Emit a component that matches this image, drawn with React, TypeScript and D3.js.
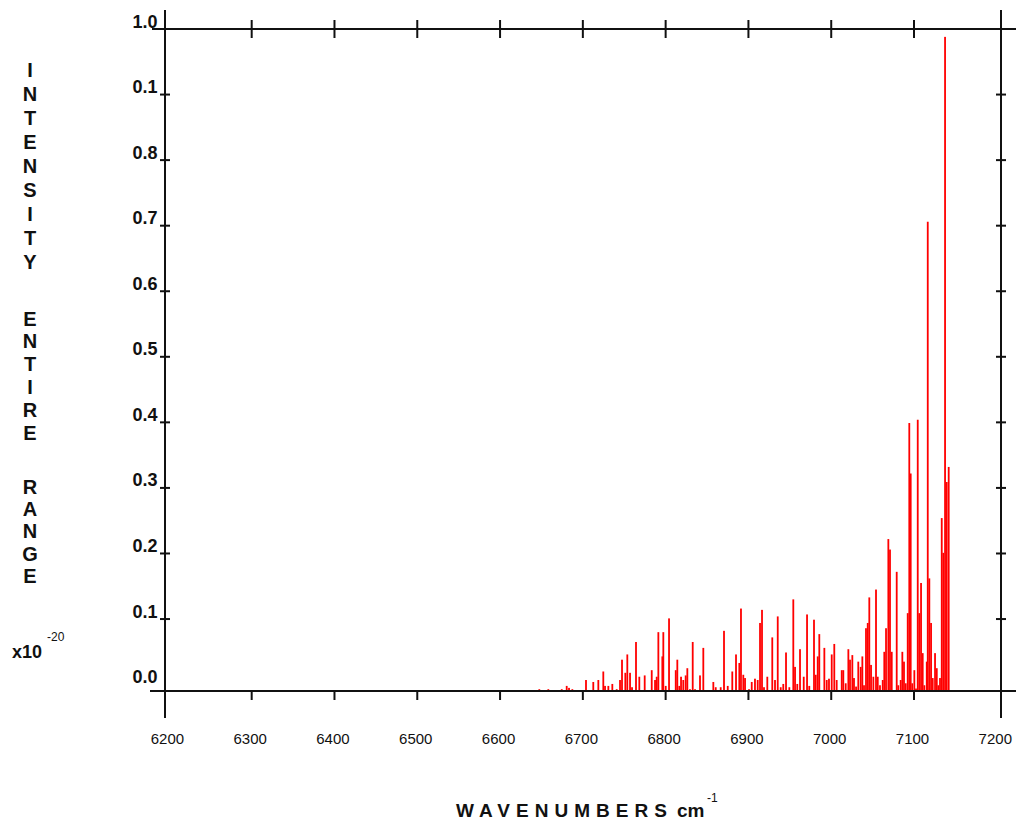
import React from "react";
import * as d3 from "d3";

const WAVENUMBERS = [
  6647.4, 6658.3, 6674.5, 6680.5, 6683.3, 6687.3, 6703.8, 6712.6, 6718.7, 6724.7,
  6726.8, 6730.8, 6735.6, 6740.9, 6744.9, 6747.3, 6751.3, 6753.7, 6757.0, 6759.4,
  6764.2, 6768.2, 6774.7, 6783.2, 6787.2, 6789.2, 6791.2, 6796.0, 6797.2, 6800.1,
  6804.1, 6812.2, 6814.1, 6816.5, 6818.6, 6821.3, 6824.2, 6826.2, 6829.4, 6832.7,
  6835.5, 6841.5, 6845.5, 6857.6, 6860.5, 6866.5, 6870.5, 6875.0, 6880.5, 6885.0,
  6889.0, 6891.0, 6893.8, 6895.9, 6900.7, 6904.0, 6907.9, 6911.2, 6914.0, 6916.4,
  6918.8, 6922.8, 6928.8, 6932.1, 6935.4, 6939.0, 6942.1, 6945.4, 6949.4, 6954.2,
  6956.3, 6959.0, 6962.3, 6966.8, 6970.8, 6973.5, 6979.2, 6981.3, 6983.7, 6985.6,
  6991.7, 6994.6, 6997.3, 7000.6, 7003.7, 7006.6, 7012.7, 7014.6, 7017.5, 7020.7,
  7022.7, 7025.5, 7027.5, 7030.0, 7032.7, 7035.6, 7037.6, 7039.6, 7042.0, 7044.1,
  7046.0, 7048.1, 7050.9, 7054.1, 7056.2, 7058.9, 7062.2, 7064.1, 7066.2, 7069.0,
  7071.0, 7073.1, 7079.1, 7081.0, 7083.9, 7085.9, 7087.9, 7090.0, 7092.4, 7094.3,
  7096.0, 7097.9, 7100.4, 7102.4, 7104.5, 7106.4, 7108.5, 7110.5, 7112.5, 7115.4,
  7116.6, 7118.5, 7120.6, 7122.6, 7125.4, 7127.5, 7129.4, 7131.4, 7133.5, 7135.4,
  7137.5, 7139.5, 7141.9,
];

const INTENSITIES = [
  -0.007, -0.007, -0.007, -0.002, -0.005, -0.007, 0.007, 0.004, 0.007, 0.020,
  -0.002, -0.002, 0.001, -0.007, 0.007, 0.038, 0.018, 0.046, 0.018, -0.004,
  0.065, 0.012, 0.014, 0.022, 0.007, 0.012, 0.080, 0.043, 0.080, -0.002,
  0.101, 0.022, 0.038, -0.002, 0.012, 0.007, 0.014, 0.025, -0.007, 0.065,
  -0.007, 0.014, 0.056, 0.004, -0.004, -0.004, 0.082, -0.002, 0.020, 0.046,
  0.033, 0.116, 0.015, 0.010, -0.007, 0.004, 0.009, 0.007, 0.094, 0.114,
  -0.004, 0.012, 0.072, 0.007, 0.104, -0.004, 0.001, 0.049, -0.004, 0.130,
  0.027, 0.001, 0.054, 0.012, 0.107, -0.002, 0.099, 0.015, 0.043, 0.077,
  0.056, 0.007, 0.009, 0.046, 0.062, 0.007, 0.022, 0.022, 0.002, 0.054,
  0.038, 0.045, 0.010, -0.003, 0.035, 0.027, 0.043, -0.001, 0.086, 0.094,
  0.133, 0.030, 0.012, 0.145, 0.012, -0.001, 0.007, 0.050, 0.086, 0.222,
  0.206, 0.050, 0.172, -0.001, 0.007, 0.050, 0.035, 0.002, 0.109, 0.399,
  0.322, 0.002, 0.022, -0.006, 0.404, 0.109, 0.155, 0.048, -0.001, 0.035,
  0.706, 0.162, 0.094, 0.010, 0.048, 0.025, -0.001, 0.010, 0.254, 0.201,
  0.988, 0.309, 0.332,
];

const X_TICKS = [6200, 6300, 6400, 6500, 6600, 6700, 6800, 6900, 7000, 7100, 7200];
const Y_TICKS = [0, 0.1, 0.2, 0.3, 0.4, 0.5, 0.6, 0.7, 0.8, 0.9, 1.0];
const Y_TICK_LABELS = ["0.0", "0.1", "0.2", "0.3", "0.4", "0.5", "0.6", "0.7", "0.8", "0.1", "1.0"];
const Y_TITLE_WORDS = ["INTENSITY", "ENTIRE", "RANGE"];

const W = 1016;
const H = 827;
const FONT = "'Liberation Sans', Arial, sans-serif";

export default function App() {
  const x = d3.scaleLinear().domain([6200, 7200]).range([168.9, 996.8]);
  const y = d3.scaleLinear().domain([0, 1]).range([684.6, 29]);

  const frameL = 165;
  const frameR = 1001;
  const frameT = y(1);
  const frameB = 691;
  const axisColor = "#111";
  const sw = 2;

  const bars = WAVENUMBERS.map((w, i) => ({ w, v: INTENSITIES[i] }));
  const innerX = X_TICKS.slice(1, -1);
  const innerY = Y_TICKS.slice(1, -1);

  const wordStarts = [69, 318, 486];
  const wordSteps = [24.1, 22.8, 22.4];

  return (
    <svg
      width={W}
      height={H}
      style={{ position: "absolute", left: 0, top: 0, background: "#fff" }}
      fontFamily={FONT}
    >
      <rect x={0} y={0} width={W} height={H} fill="#fff" />

      {/* bars */}
      {bars.map((b, i) => (
        <rect
          key={i}
          x={x(b.w) - 0.9}
          width={1.8}
          y={y(b.v)}
          height={frameB - y(b.v)}
          fill="#ff0000"
        />
      ))}

      {/* frame lines */}
      <line x1={frameL} x2={frameL} y1={10} y2={718} stroke={axisColor} strokeWidth={sw} />
      <line x1={frameR} x2={frameR} y1={10} y2={718} stroke={axisColor} strokeWidth={sw} />
      <line x1={152} x2={W} y1={frameT} y2={frameT} stroke={axisColor} strokeWidth={sw} />
      <line x1={150} x2={W} y1={frameB} y2={frameB} stroke={axisColor} strokeWidth={sw} />

      {/* top ticks (crossing) and bottom ticks (down) */}
      {innerX.map((t) => (
        <g key={"xt" + t}>
          <line x1={x(t)} x2={x(t)} y1={frameT - 9} y2={frameT + 9} stroke={axisColor} strokeWidth={sw} />
          <line x1={x(t)} x2={x(t)} y1={frameB} y2={frameB + 9} stroke={axisColor} strokeWidth={sw} />
        </g>
      ))}

      {/* left and right ticks (crossing) */}
      {innerY.map((t) => (
        <g key={"yt" + t}>
          <line x1={frameL - 5} x2={frameL + 5} y1={y(t)} y2={y(t)} stroke={axisColor} strokeWidth={sw} />
          <line x1={frameR - 5} x2={frameR + 5} y1={y(t)} y2={y(t)} stroke={axisColor} strokeWidth={sw} />
        </g>
      ))}

      {/* x tick labels */}
      {X_TICKS.map((t) => (
        <text key={"xl" + t} x={x(t) - 1.5} y={744} textAnchor="middle" fontSize={15} fill="#111">
          {t}
        </text>
      ))}

      {/* y tick labels */}
      {Y_TICKS.map((t, i) => (
        <text
          key={"yl" + i}
          x={157.5}
          y={y(t) - 1.5}
          textAnchor="end"
          fontSize={18}
          fontWeight="bold"
          fill="#111"
        >
          {Y_TICK_LABELS[i]}
        </text>
      ))}

      {/* y title: stacked letters */}
      {Y_TITLE_WORDS.map((word, wi) =>
        word.split("").map((ch, ci) => (
          <text
            key={"yw" + wi + "-" + ci}
            x={30}
            y={wordStarts[wi] + ci * wordSteps[wi] + 7.5}
            textAnchor="middle"
            fontSize={20}
            fontWeight="bold"
            fill="#111"
          >
            {ch}
          </text>
        ))
      )}

      {/* multiplier */}
      <text x={12} y={658} fontSize={18} fontWeight="bold" fill="#111">
        x10
      </text>
      <text x={47} y={641} fontSize={12} fill="#111">
        -20
      </text>

      {/* x title */}
      <text x={456} y={817} fontSize={19} fontWeight="bold" fill="#111" textLength={211} lengthAdjust="spacing">
        WAVENUMBERS
      </text>
      <text x={677} y={817} fontSize={19} fontWeight="bold" fill="#111">
        cm
      </text>
      <text x={707} y={802} fontSize={12} fill="#111">
        -1
      </text>
    </svg>
  );
}
